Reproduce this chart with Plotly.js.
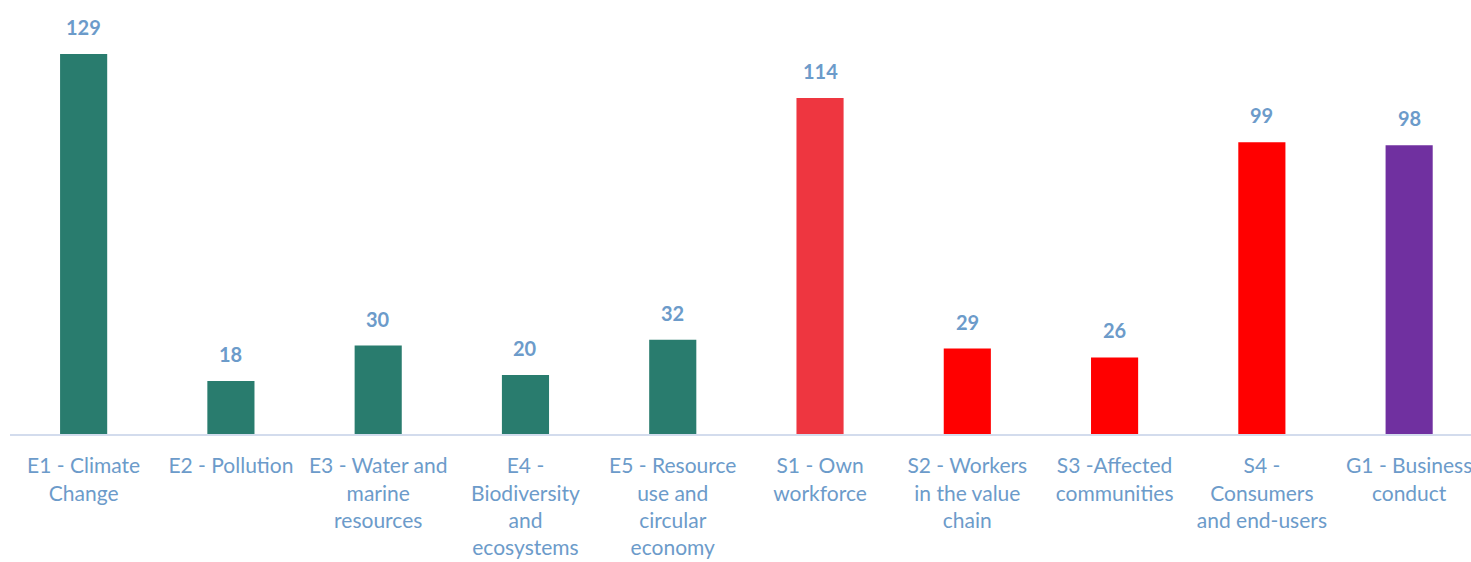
<!DOCTYPE html>
<html><head><meta charset="utf-8">
<script src="https://cdn.plot.ly/plotly-3.0.1.min.js"></script>
<style>html,body{margin:0;padding:0;background:#fff;}#chart{width:1471px;height:562px;}</style>
</head><body><div id="chart"></div>
<script>
const categories = ["E1 - Climate<br>Change","E2 - Pollution","E3 - Water and<br>marine<br>resources","E4 -<br>Biodiversity<br>and<br>ecosystems","E5 - Resource<br>use and<br>circular<br>economy","S1 - Own<br>workforce","S2 - Workers<br>in the value<br>chain","S3 -Affected<br>communities","S4 -<br>Consumers<br>and end-users","G1 - Business<br>conduct"];
const values = [129,18,30,20,32,114,29,26,99,98];
const barColors = ["#297c6e","#297c6e","#297c6e","#297c6e","#297c6e","#ee3640","#ff0000","#ff0000","#ff0000","#7030a0"];
const labelColor = "#6c9bca";

const trace = {type:"bar", x:categories, y:values, marker:{color:barColors}, width:0.32, hoverinfo:"none"};
const annotations = values.map((v,i)=>({x:categories[i], y:v, text:"<b>"+v+"</b>", showarrow:false, yanchor:"bottom", yshift:13, font:{family:"Lato, 'Open Sans', sans-serif", size:20, color:labelColor}}));
const layout = {
  width:1471, height:562,
  margin:{l:10,r:0,t:20,b:128},
  paper_bgcolor:"#fff", plot_bgcolor:"#fff",
  showlegend:false,
  xaxis:{type:"category", range:[-0.5,9.42], showline:true, linecolor:"#d3dced", linewidth:2, ticks:"", ticklabelstandoff:12, tickfont:{family:"Lato, 'Open Sans', sans-serif", size:21, color:labelColor}, showgrid:false, zeroline:false, fixedrange:true},
  yaxis:{range:[0,140.5], visible:false, showgrid:false, zeroline:false},
  annotations:annotations
};
Plotly.newPlot("chart",[trace],layout,{displayModeBar:false,staticPlot:true});
</script></body></html>
